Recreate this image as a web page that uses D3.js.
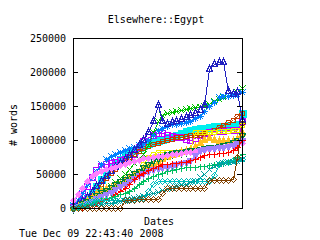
<!DOCTYPE html>
<html>
<head>
<meta charset="utf-8">
<script src="https://cdn.jsdelivr.net/npm/d3@7"></script>
<style>
  body { margin: 0; background: #fff; }
  svg { display: block; }
  text { font-family: "DejaVu Sans Mono", monospace; font-size: 10px; fill: #000; }
</style>
</head>
<body>
<div id="chart"></div>
<script>
// Elsewhere::Egypt - word counts per page over time (values in thousands of words)

const width = 320;
const height = 240;
const margin = {left: 73, right: 78, top: 38, bottom: 32};

// date index along x (no tick labels on the original)
const days = [0,1,2,3,4,5,6,7,8,9,10,11,12,13,14,15,16,17,18,19,20,21,22,23,24,25,26,27,28,29,30,31,32,33,34,35,36];
const yTicks = [0, 50, 100, 150, 200, 250];

// one array per series, thousands of words
const redPlus    = [0,1,2,4,6,8,10,13,16,20,25,30,36,42,48,52,56,59,62,64,65,66,66,67,68,70,72,75,78,79,80,81,81,82,85,90,100];
const greenX     = [0,1,3,6,10,15,20,26,32,38,44,50,58,66,72,80,92,112,128,137,140,141,142,144,146,147,148,149,150,153,157,160,163,165,167,170,176];
const blueStar   = [5,12,22,35,45,55,64,72,76,80,83,86,88,90,92,95,100,108,114,118,121,123,124,125,126,128,132,136,142,150,156,163,164,165,166,168,171];
const purpleBox  = [2,8,20,32,45,56,62,64,66,68,70,72,75,80,90,98,105,108,110,110,108,106,105,104,102,100,103,107,110,112,113,113,113,114,114,115,128];
const cyanBox    = [3,6,10,15,22,32,42,52,60,66,72,78,82,86,90,93,96,98,100,102,104,106,108,110,113,115,116,117,118,119,120,121,121,122,122,123,140];
const rustCircle = [2,4,8,12,18,26,35,44,52,58,64,70,75,80,84,88,91,94,96,98,100,102,104,105,106,107,108,108,110,112,115,119,122,126,129,136,140];
const yellowRing = [0,1,3,6,10,14,18,22,26,30,34,38,42,48,55,65,75,80,82,82,82,83,83,84,84,86,112,112,112,112,112,113,113,113,114,115,122];
const navyTri    = [3,6,10,16,24,32,40,47,54,60,66,72,78,85,93,100,112,128,152,128,124,126,128,131,134,137,140,144,152,205,212,215,215,172,168,170,130];
const goldTri    = [0,2,5,10,15,20,25,28,30,33,36,40,44,48,52,56,60,64,68,72,75,78,80,82,84,86,90,95,100,103,100,99,98,98,99,102,110];
const darkGreen  = [0,3,7,11,15,19,23,27,31,35,39,43,47,51,55,60,65,70,74,77,79,81,82,83,84,85,86,87,88,89,90,91,92,94,97,100,107];
const violetInv  = [1,3,5,8,11,14,17,20,24,28,32,36,40,44,48,52,55,57,59,60,61,62,64,66,67,70,78,85,87,88,88,89,90,91,93,95,100];
const brownDiam  = [0,0,0,0,0,0,0,0,0,0,0,12,12,12,13,13,13,13,13,22,29,29,29,29,29,29,29,29,29,41,41,41,41,41,42,75,125];
const pinkDiam   = [12,20,30,40,47,52,55,57,59,61,63,65,67,69,71,73,74,75,76,77,78,79,80,81,82,83,84,85,86,87,88,89,90,91,92,94,96];
const seaPlus    = [0,2,4,6,8,10,12,14,16,18,20,22,25,30,35,40,44,47,50,52,54,56,58,59,60,60,61,62,62,63,64,65,66,68,70,75,80];
const tealX      = [0,1,2,3,4,5,6,7,8,9,10,11,12,14,16,18,20,22,24,26,28,30,32,34,36,38,40,45,50,58,62,65,66,67,68,69,72];
const tealDiam   = [0,2,5,8,10,12,12,12,12,12,12,13,13,13,14,15,25,35,40,40,40,40,40,40,40,40,40,40,40,40,48,65,68,68,70,70,72];

// drawing table: data + look (order = drawing order)
const series = [
  {values: cyanBox,    color: "#00eeee", pt: "fbox"},
  {values: purpleBox,  color: "#c000ff", pt: "box"},
  {values: rustCircle, color: "#c04000", pt: "circle"},
  {values: yellowRing, color: "#eeee00", pt: "circle"},
  {values: greenX,     color: "#00c000", pt: "cross"},
  {values: blueStar,   color: "#0080ff", pt: "star"},
  {values: navyTri,    color: "#2020c0", pt: "tri"},
  {values: goldTri,    color: "#ffc020", pt: "ftri"},
  {values: darkGreen,  color: "#008040", pt: "inv"},
  {values: pinkDiam,   color: "#ff80ff", pt: "fdiam"},
  {values: violetInv,  color: "#a080ff", pt: "finv"},
  {values: redPlus,    color: "#ff0000", pt: "plus"},
  {values: seaPlus,    color: "#00c060", pt: "plus"},
  {values: tealDiam,   color: "#00c0c0", pt: "diam"},
  {values: tealX,      color: "#00a0a0", pt: "cross"},
  {values: brownDiam,  color: "#804000", pt: "diam"}
];

const svg = d3.select("#chart")
  .append("svg")
  .attr("width", width)
  .attr("height", height);

const xScale = d3.scaleLinear()
  .domain([d3.min(days), d3.max(days)])
  .range([margin.left, width - margin.right]);

const yScale = d3.scaleLinear()
  .domain([0, 250])
  .range([height - margin.bottom, margin.top]);

// point markers, gnuplot style
const r = 3;
function marker(type, x, y) {
  x = Math.round(x) + 0.5;
  y = Math.round(y) + 0.5;
  switch (type) {
    case "plus":  return `M${x-r},${y}H${x+r}M${x},${y-r}V${y+r}`;
    case "cross": return `M${x-r},${y-r}L${x+r},${y+r}M${x-r},${y+r}L${x+r},${y-r}`;
    case "star":  return `M${x-r},${y}H${x+r}M${x},${y-r}V${y+r}M${x-r},${y-r}L${x+r},${y+r}M${x-r},${y+r}L${x+r},${y-r}`;
    case "box":
      return `M${x-r},${y-r}H${x+r}V${y+r}H${x-r}Z`;
    case "fbox":
      return `M${x-r-0.5},${y-r-0.5}H${x+r+0.5}V${y+r+0.5}H${x-r-0.5}Z`;
    case "circle": return `M${x-2.5},${y}A2.5,2.5 0 1,0 ${x+2.5},${y}A2.5,2.5 0 1,0 ${x-2.5},${y}`;
    case "tri": case "ftri":
      return `M${x},${y-r-1}L${x+r},${y+r-1}H${x-r}Z`;
    case "inv": case "finv":
      return `M${x},${y+r+1}L${x+r},${y-r+1}H${x-r}Z`;
    case "diam": case "fdiam":
      return `M${x},${y-r}L${x+r},${y}L${x},${y+r}L${x-r},${y}Z`;
  }
}
const filled = {fbox: true, ftri: true, finv: true, fdiam: true};

const line = d3.line()
  .x((d, i) => Math.round(xScale(days[i])) + 0.5)
  .y(d => Math.round(yScale(d)) + 0.5);

const layer = svg.append("g")
  .attr("shape-rendering", "crispEdges");

series.forEach(s => {
  const g = layer.append("g");
  g.append("path")
    .attr("d", line(s.values))
    .attr("fill", "none")
    .attr("stroke", s.color)
    .attr("stroke-width", 1);
  g.selectAll("path.pt")
    .data(s.values)
    .enter()
    .append("path")
    .attr("class", "pt")
    .attr("d", (d, i) => marker(s.pt, xScale(days[i]), yScale(d)))
    .attr("fill", filled[s.pt] ? s.color : "none")
    .attr("stroke", s.color)
    .attr("stroke-width", 1);
});

// frame
svg.append("rect")
  .attr("x", margin.left + 0.5)
  .attr("y", margin.top + 0.5)
  .attr("width", width - margin.left - margin.right)
  .attr("height", height - margin.top - margin.bottom)
  .attr("fill", "none")
  .attr("stroke", "#000")
  .attr("shape-rendering", "crispEdges");

// y axis (ticks point inward), mirrored on the right
const yAxis = svg.append("g")
  .attr("transform", `translate(${margin.left},0)`)
  .call(d3.axisLeft(yScale).tickValues(yTicks).tickSize(-5).tickPadding(7)
          .tickFormat(d => d * 1000));
yAxis.select(".domain").remove();
yAxis.selectAll("line").attr("stroke", "#000").attr("shape-rendering", "crispEdges");
yAxis.selectAll("text").attr("font-family", null).attr("font-size", null);

const yAxisR = svg.append("g")
  .attr("transform", `translate(${width - margin.right},0)`)
  .call(d3.axisRight(yScale).tickValues(yTicks).tickSize(-5).tickFormat(""));
yAxisR.select(".domain").remove();
yAxisR.selectAll("line").attr("stroke", "#000").attr("shape-rendering", "crispEdges");

// labels
svg.append("text")
  .attr("x", 156)
  .attr("y", 19)
  .attr("text-anchor", "middle")
  .attr("dominant-baseline", "central")
  .text("Elsewhere::Egypt");

svg.append("text")
  .attr("transform", "translate(13,125) rotate(-90)")
  .attr("text-anchor", "middle")
  .attr("dominant-baseline", "central")
  .text("# words");

svg.append("text")
  .attr("x", 159)
  .attr("y", 221)
  .attr("text-anchor", "middle")
  .attr("dominant-baseline", "central")
  .text("Dates");

svg.append("text")
  .attr("x", 19)
  .attr("y", 233)
  .attr("dominant-baseline", "central")
  .text("Tue Dec 09 22:43:40 2008");
</script>
</body>
</html>
